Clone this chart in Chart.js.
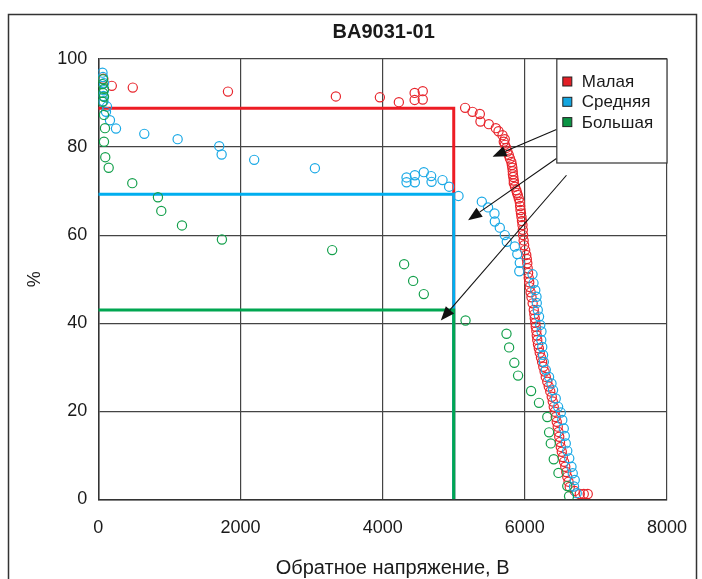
<!DOCTYPE html>
<html>
<head>
<meta charset="utf-8">
<script src="https://cdn.jsdelivr.net/npm/chart.js@4.4.0/dist/chart.umd.min.js"></script>
<style>
  html, body { margin: 0; padding: 0; background: #fff; }
</style>
</head>
<body>
<canvas id="chart" width="702" height="579"></canvas>
<script>
// Series names (legend order)
const seriesNames = ['Малая', 'Средняя', 'Большая'];
const chartTitle = 'BA9031-01';
const xTitle = 'Обратное напряжение, В';
const yTitle = '%';

// Axis ticks
const xTicks = [0, 2000, 4000, 6000, 8000];
const yTicks = [0, 20, 40, 60, 80, 100];

// Малая: [voltage, %]
const smallPts = [
  [70, 95.5], [190, 93.9], [485, 93.5], [1824, 92.6], [3342, 91.5], [3961, 91.3], [4228, 90.2],
  [4450, 92.3], [4564, 92.7], [4450, 90.7], [4564, 90.8], [5160, 88.9], [5264, 88.0], [5367, 87.5],
  [5376, 85.8], [5493, 85.2], [5592, 84.3], [5630, 83.6], [5686, 82.7], [5718, 81.8],
  [5704, 81.2], [5720, 80.5], [5739, 79.8], [5755, 79.0], [5774, 78.2], [5790, 77.4], [5810, 76.6],
  [5818, 75.9], [5824, 75.3], [5830, 74.5], [5832, 73.8], [5838, 73.2], [5845, 72.4], [5845, 71.8],
  [5862, 71.0], [5880, 70.2], [5890, 69.6], [5901, 69.1], [5915, 68.3], [5929, 67.5], [5934, 66.6],
  [5939, 65.7], [5946, 64.9], [5953, 64.1], [5960, 63.2], [5967, 62.3], [5972, 61.2], [5976, 60.0],
  [5983, 58.8], [5990, 57.7], [6005, 56.6], [6020, 55.5], [6028, 54.6], [6035, 53.6], [6040, 52.5],
  [6046, 51.4], [6055, 50.3], [6062, 49.3], [6070, 48.2], [6082, 47.0], [6094, 45.9], [6110, 44.5],
  [6126, 43.0], [6134, 42.0], [6140, 41.1], [6147, 40.1], [6154, 39.2], [6162, 38.2], [6168, 37.2],
  [6175, 36.2], [6185, 35.2], [6197, 34.3], [6210, 33.3], [6227, 32.2], [6243, 31.2], [6260, 30.1],
  [6278, 29.0], [6295, 27.8], [6316, 26.7], [6337, 25.6], [6358, 24.5], [6379, 23.3], [6393, 22.2],
  [6407, 21.0], [6421, 19.9], [6435, 18.7], [6449, 17.6], [6463, 16.5], [6474, 15.3], [6484, 14.2],
  [6495, 13.0], [6506, 11.9], [6520, 10.8], [6534, 9.6], [6552, 8.5], [6569, 7.4], [6583, 6.2],
  [6597, 5.1], [6615, 4.0], [6632, 2.8], [6702, 1.9], [6773, 1.2], [6829, 1.2], [6885, 1.2]
];

// Средняя
const mediumPts = [
  [59, 96.9], [66, 95.9], [80, 94.5], [80, 92.9], [73, 91.6], [73, 90.4], [122, 89.2], [108, 88.0],
  [164, 86.1], [249, 84.2], [647, 83.0], [1116, 81.8], [1701, 80.2], [1735, 78.3], [2193, 77.1],
  [3047, 75.2], [4336, 73.1], [4336, 72.0], [4453, 73.6], [4453, 72.0], [4579, 74.3], [4682, 73.4],
  [4688, 72.1], [4842, 72.5], [4935, 71.0], [5067, 68.9], [5395, 67.6], [5483, 66.3], [5573, 64.9],
  [5578, 63.1], [5648, 61.7], [5718, 60.0], [5746, 58.5], [5859, 57.4], [5894, 55.7], [5929, 53.7],
  [5922, 51.8], [6108, 51.1], [6122, 49.1], [6147, 47.5], [6164, 46.0], [6168, 44.6], [6182, 43.0],
  [6200, 41.5], [6217, 39.6], [6234, 38.1], [6231, 36.2], [6245, 34.6], [6257, 32.8], [6267, 31.2],
  [6295, 29.4], [6341, 27.8], [6375, 26.3], [6397, 24.8], [6435, 22.9], [6468, 21.0], [6506, 19.7],
  [6527, 18.0], [6548, 16.1], [6562, 14.4], [6576, 12.7], [6597, 11.0], [6625, 9.3], [6656, 7.4],
  [6674, 5.9], [6702, 4.4], [6692, 2.9], [6730, 1.4]
];

// Большая
const largePts = [
  [66, 95.4], [59, 94.3], [80, 93.2], [66, 92.3], [80, 91.4], [59, 90.3], [80, 87.3], [94, 84.3],
  [80, 81.2], [98, 77.7], [146, 75.3], [478, 71.8], [839, 68.6], [886, 65.5], [1177, 62.2],
  [1739, 59.0], [3290, 56.6], [4302, 53.4], [4429, 49.6], [4579, 46.6], [5166, 40.6], [5742, 37.6],
  [5779, 34.5], [5852, 31.0], [5905, 28.1], [6088, 24.6], [6199, 21.9], [6316, 18.7], [6341, 15.2],
  [6365, 12.7], [6407, 9.1], [6473, 6.0], [6597, 3.0], [6622, 0.7]
];

// Reference levels at 5000 V
const refLevels = [88.8, 69.3, 43.0];
const refVoltage = 5000;

const markColors = ['#e8262d', '#1aa9e6', '#14a04c'];
const lineColors = ['#ed1c24', '#00aeef', '#00a651'];
const keyColors = ['#e21f26', '#13a6e0', '#0b9444'];
const fontFam = '"Liberation Sans", Arial, sans-serif';

const toXY = pts => pts.map(p => ({ x: p[0], y: p[1] }));

const scatterSets = [smallPts, mediumPts, largePts].map((pts, i) => ({
  label: seriesNames[i],
  data: toXY(pts),
  showLine: false,
  pointStyle: 'circle',
  pointRadius: 4.6,
  pointBorderWidth: 1.2,
  pointBorderColor: markColors[i],
  pointBackgroundColor: 'rgba(0,0,0,0)',
  order: 3 - i
}));

const refSets = refLevels.map((lvl, i) => ({
  label: 'ref' + i,
  data: [{ x: 0, y: lvl }, { x: refVoltage, y: lvl }, { x: refVoltage, y: 0 }],
  showLine: true,
  borderColor: lineColors[i],
  borderWidth: 3,
  pointRadius: 0,
  fill: false,
  borderJoinStyle: 'miter',
  order: 10 - i
}));

// outer frame, titles, legend box and arrows
const decorPlugin = {
  id: 'decor',
  beforeDraw(chart) {
    const ctx = chart.ctx;
    ctx.save();
    ctx.fillStyle = '#fff';
    ctx.fillRect(0, 0, chart.width, chart.height);
    ctx.strokeStyle = '#333';
    ctx.lineWidth = 1.5;
    ctx.strokeRect(8.5, 14.5, 688, 600);
    ctx.restore();
  },
  afterDraw(chart) {
    const ctx = chart.ctx;
    const xs = chart.scales.x, ys = chart.scales.y;
    const area = chart.chartArea;
    const midX = (area.left + area.right) / 2;

    ctx.save();
    ctx.fillStyle = '#1a1a1a';
    ctx.textAlign = 'center';
    ctx.textBaseline = 'middle';
    ctx.font = 'bold 20px ' + fontFam;
    ctx.fillText(chartTitle, midX + 1, 32.5);
    ctx.font = '20px ' + fontFam;
    ctx.fillText(xTitle, midX + 10, 568);

    // arrows (data units)
    const arrows = [
      [6445, 84.0, 5545, 77.8],
      [6445, 77.4, 5202, 63.4],
      [6586, 73.6, 4818, 40.6]
    ];
    ctx.strokeStyle = '#111';
    ctx.fillStyle = '#111';
    ctx.lineWidth = 1.1;
    arrows.forEach(a => {
      const x1 = xs.getPixelForValue(a[0]), y1 = ys.getPixelForValue(a[1]);
      const x2 = xs.getPixelForValue(a[2]), y2 = ys.getPixelForValue(a[3]);
      const ang = Math.atan2(y2 - y1, x2 - x1);
      const len = 14, hw = 5.5;
      const bx = x2 - len * Math.cos(ang), by = y2 - len * Math.sin(ang);
      ctx.beginPath();
      ctx.moveTo(x1, y1);
      ctx.lineTo(bx, by);
      ctx.stroke();
      ctx.beginPath();
      ctx.moveTo(x2, y2);
      ctx.lineTo(bx + hw * Math.sin(ang), by - hw * Math.cos(ang));
      ctx.lineTo(bx - hw * Math.sin(ang), by + hw * Math.cos(ang));
      ctx.closePath();
      ctx.fill();
    });

    // legend box
    const bl = xs.getPixelForValue(6450);
    const bt = area.top;
    const bw = area.right - bl, bh = 104;
    ctx.fillStyle = '#fff';
    ctx.fillRect(bl, bt, bw, bh);
    ctx.strokeStyle = '#333';
    ctx.lineWidth = 1.2;
    ctx.strokeRect(bl, bt, bw, bh);
    ctx.font = '17px ' + fontFam;
    ctx.textBaseline = 'middle';
    ctx.textAlign = 'left';
    seriesNames.forEach((name, i) => {
      const cy = bt + 22.5 + i * 20.3;
      ctx.fillStyle = keyColors[i];
      ctx.fillRect(bl + 6, cy - 4.5, 9, 9);
      ctx.strokeStyle = '#222';
      ctx.lineWidth = 1;
      ctx.strokeRect(bl + 6, cy - 4.5, 9, 9);
      ctx.fillStyle = '#1a1a1a';
      ctx.fillText(name, bl + 25, cy + 1);
    });
    ctx.restore();
  }
};

new Chart(document.getElementById('chart').getContext('2d'), {
  type: 'scatter',
  data: { datasets: [...scatterSets, ...refSets] },
  options: {
    responsive: false,
    devicePixelRatio: 1,
    animation: false,
    layout: { padding: { left: 0, right: 35, top: 59, bottom: 0 } },
    plugins: {
      legend: { display: false },
      tooltip: { enabled: false },
      title: { display: false }
    },
    scales: {
      x: {
        type: 'linear',
        min: xTicks[0],
        max: xTicks[xTicks.length - 1],
        afterBuildTicks: s => { s.ticks = xTicks.map(v => ({ value: v })); },
        afterFit: s => { s.height = 79.7; s.paddingLeft = 0; s.paddingRight = 0; },
        grid: { color: '#444', lineWidth: 1.2, drawTicks: false },
        border: { color: '#333', width: 1.5 },
        ticks: { color: '#1a1a1a', padding: 18, font: { family: fontFam, size: 18 }, callback: v => String(v) },
        title: { display: false }
      },
      y: {
        type: 'linear',
        min: yTicks[0],
        max: yTicks[yTicks.length - 1],
        afterBuildTicks: s => { s.ticks = yTicks.map(v => ({ value: v })); },
        afterFit: s => { s.width = 98.3; s.paddingTop = 0; s.paddingBottom = 0; },
        grid: { color: '#444', lineWidth: 1.2, drawTicks: false },
        border: { color: '#333', width: 1.5 },
        ticks: { color: '#1a1a1a', padding: 11, font: { family: fontFam, size: 18 }, callback: v => String(v) },
        title: {
          display: true,
          text: yTitle,
          color: '#1a1a1a',
          font: { family: fontFam, size: 18 },
          padding: { top: 24, bottom: 0 }
        }
      }
    }
  },
  plugins: [decorPlugin]
});
</script>
</body>
</html>
